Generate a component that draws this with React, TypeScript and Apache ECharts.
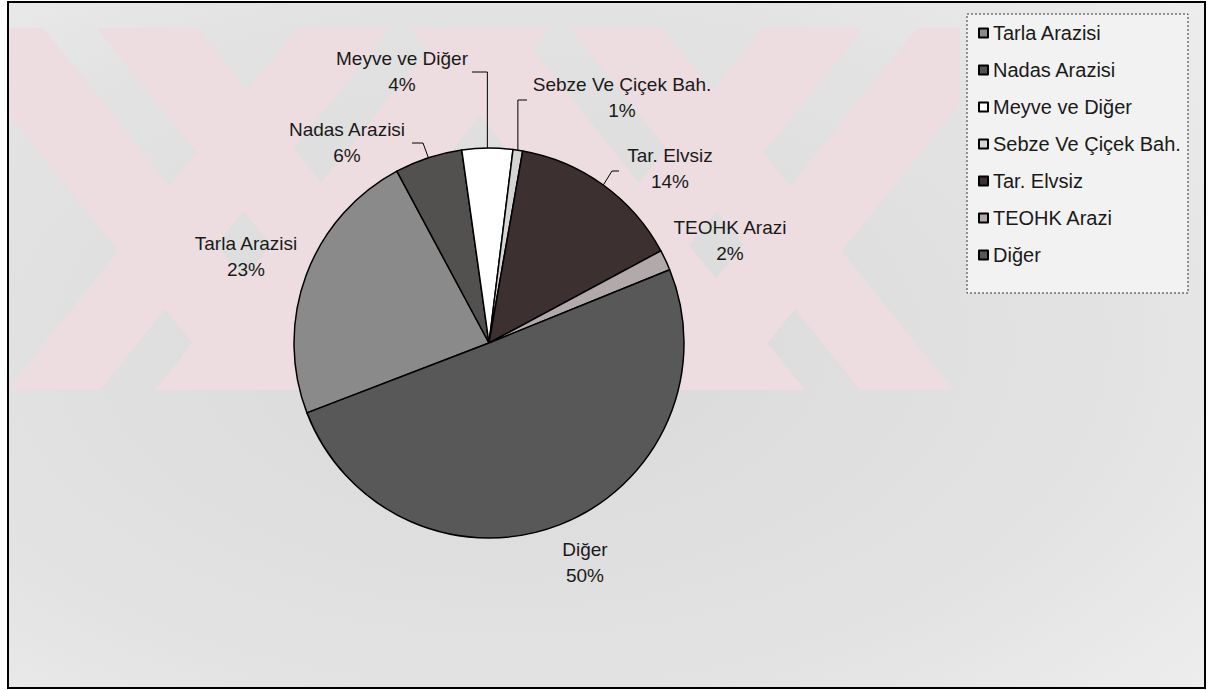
import React, { useEffect, useRef } from "react";
import * as echarts from "echarts";

// ---- data ----
const categories = [
  "Tarla Arazisi",
  "Nadas Arazisi",
  "Meyve ve Diğer",
  "Sebze Ve Çiçek Bah.",
  "Tar. Elvsiz",
  "TEOHK Arazi",
  "Diğer",
];
const shares = [23, 5.6, 4.2, 0.8, 14.4, 1.7, 50.3];

// ---- styling / layout ----
const sliceColors = ["#8a8a8a", "#535050", "#ffffff", "#d4d4d4", "#3c3030", "#b2aaaa", "#585858"];
const pieCenter = [489, 343];
const pieRadius = 195;
const pieStart = 201;
// label block centres (two-line labels)
const labelCentres = [
  [246, 256],
  [347, 142],
  [402, 71],
  [622, 97],
  [670, 168],
  [730, 240],
  [585, 562],
];
// leader lines: elbow and end (null x = same x as slice edge point)
const leaders: any[] = [
  null,
  [[423, 143], [412, 143]],
  [[null, 72], [472, 72]],
  [[null, 100], [527, 100]],
  [[612, 171], [619, 171]],
  null,
  null,
];

// watermark bands (x-interval at the top edge of the watermark strip)
const wmBack = [[-60, 43], [97, 197], [410, 515], [570, 663]];
const wmFwd = [[297, 390], [445, 550], [763, 863], [917, 1020]];
const wmTop = 28;
const wmBottom = 390;
const wmShift = 290;

function clipPoly(poly: number[][], x0: number, x1: number, y0: number, y1: number) {
  const edges: [(p: number[]) => boolean, (a: number[], b: number[]) => number[]][] = [
    [(p) => p[0] >= x0, (a, b) => { const t = (x0 - a[0]) / (b[0] - a[0]); return [x0, a[1] + t * (b[1] - a[1])]; }],
    [(p) => p[0] <= x1, (a, b) => { const t = (x1 - a[0]) / (b[0] - a[0]); return [x1, a[1] + t * (b[1] - a[1])]; }],
    [(p) => p[1] >= y0, (a, b) => { const t = (y0 - a[1]) / (b[1] - a[1]); return [a[0] + t * (b[0] - a[0]), y0]; }],
    [(p) => p[1] <= y1, (a, b) => { const t = (y1 - a[1]) / (b[1] - a[1]); return [a[0] + t * (b[0] - a[0]), y1]; }],
  ];
  let out = poly;
  for (const [inside, inter] of edges) {
    const inp = out;
    out = [];
    for (let i = 0; i < inp.length; i++) {
      const cur = inp[i];
      const prev = inp[(i + inp.length - 1) % inp.length];
      if (inside(cur)) {
        if (!inside(prev)) out.push(inter(prev, cur));
        out.push(cur);
      } else if (inside(prev)) {
        out.push(inter(prev, cur));
      }
    }
  }
  return out;
}

function midAngle(i: number) {
  const total = shares.reduce((a, b) => a + b, 0);
  let acc = 0;
  for (let k = 0; k < i; k++) acc += shares[k];
  const a = pieStart - ((acc + shares[i] / 2) / total) * 360;
  return (a * Math.PI) / 180;
}

export default function App() {
  const ref = useRef<HTMLDivElement>(null);
  useEffect(() => {
    if (!ref.current) return;
    const chart = echarts.init(ref.current, undefined, { renderer: "svg" });
    const wmPolys: any[] = [];
    const addBand = (a: number, b: number, dir: number) => {
      const s = dir * wmShift;
      const p = clipPoly([[a, wmTop], [b, wmTop], [b + s, wmBottom], [a + s, wmBottom]], 10, 960, wmTop, wmBottom);
      if (p.length > 2)
        wmPolys.push({ type: "polygon", z: 0, silent: true, shape: { points: p }, style: { fill: "#eedde0" } });
    };
    wmBack.forEach(([a, b]) => addBand(a, b, 1));
    wmFwd.forEach(([a, b]) => addBand(a, b, -1));

    const data = categories.map((name, i) => ({
      name,
      value: shares[i],
      itemStyle: { color: sliceColors[i] },
      labelLine: { show: !!leaders[i] },
    }));

    const font = "'Liberation Sans', Arial, sans-serif";
    chart.setOption({
      animation: false,
      backgroundColor: "#ffffff",
      textStyle: { fontFamily: font },
      graphic: [
        {
          type: "rect",
          z: 0,
          silent: true,
          shape: { x: 8, y: 2, width: 1197, height: 686 },
          style: {
            fill: new echarts.graphic.RadialGradient(0.42, 0.5, 0.95, [
              { offset: 0, color: "#d9d9d9" },
              { offset: 0.55, color: "#e3e3e3" },
              { offset: 1, color: "#f5f5f5" },
            ]),
          },
        },
        ...wmPolys,
        {
          type: "rect",
          z: 1,
          silent: true,
          shape: { x: 967, y: 14, width: 221, height: 279 },
          style: { fill: "#f2f2f2", stroke: "#333", lineWidth: 1, lineDash: [2, 2] },
        },
        {
          type: "rect",
          z: 20,
          silent: true,
          shape: { x: 8, y: 2, width: 1197, height: 686 },
          style: { fill: "none", stroke: "#000", lineWidth: 2 },
        },
      ],
      legend: {
        orient: "vertical",
        left: 978,
        top: 23,
        icon: "rect",
        itemWidth: 9,
        itemHeight: 9,
        itemGap: 17,
        padding: 0,
        selectedMode: false,
        textStyle: { fontSize: 20, color: "#1a1a1a", lineHeight: 20, fontFamily: font },
        data: categories,
      },
      series: [
        {
          type: "pie",
          center: pieCenter,
          radius: pieRadius,
          startAngle: pieStart,
          clockwise: true,
          avoidLabelOverlap: false,
          percentPrecision: 0,
          silent: true,
          itemStyle: { borderColor: "#000", borderWidth: 1.5 },
          label: {
            show: true,
            position: "outside",
            formatter: "{b}\n{d}%",
            fontSize: 19,
            lineHeight: 26,
            align: "center",
            color: "#1a1a1a",
            fontFamily: font,
          },
          labelLine: { lineStyle: { color: "#000", width: 1 } },
          labelLayout: (params: any) => {
            const i = params.dataIndex;
            const [cx, cy] = labelCentres[i];
            const res: any = { x: cx, y: cy, align: "center", verticalAlign: "middle" };
            const ld = leaders[i];
            if (ld) {
              const ang = midAngle(i);
              const ex = pieCenter[0] + pieRadius * Math.cos(ang);
              const ey = pieCenter[1] - pieRadius * Math.sin(ang);
              const elbow = [ld[0][0] === null ? ex : ld[0][0], ld[0][1]];
              res.labelLinePoints = [[ex, ey], elbow, ld[1]];
            }
            return res;
          },
          data,
        },
      ],
    });
    return () => chart.dispose();
  }, []);
  return <div ref={ref} style={{ position: "fixed", left: 0, top: 0, width: 1224, height: 690 }} />;
}
